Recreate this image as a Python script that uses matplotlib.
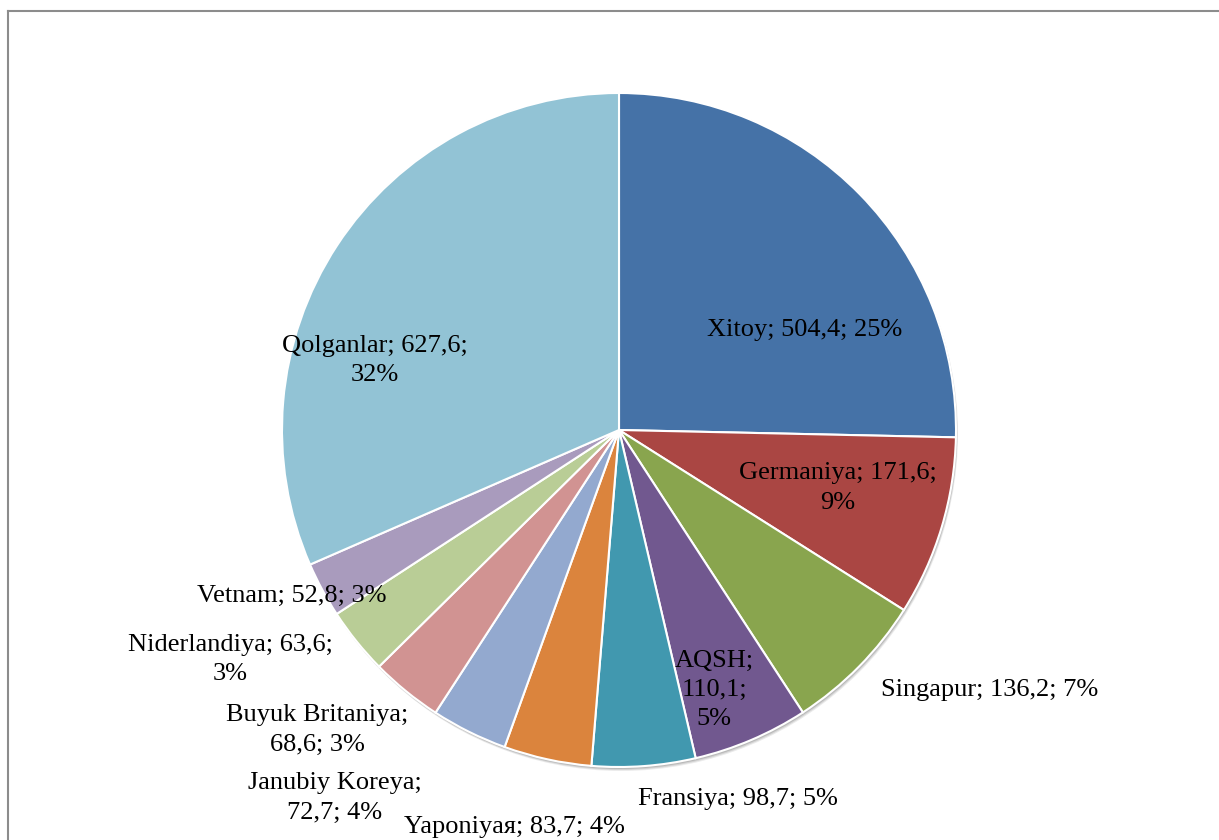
import matplotlib
import matplotlib.pyplot as plt
from matplotlib.lines import Line2D
from matplotlib.patches import Circle

matplotlib.use('Agg')
plt.rcParams['font.family'] = ['Liberation Serif', 'DejaVu Serif']

# Eksport hajmi bo'yicha davlatlar (mln. doll.)
countries = ["Xitoy", "Germaniya", "Singapur", "AQSH", "Fransiya", "Yaponiyaя",
             "Janubiy Koreya", "Buyuk Britaniya", "Niderlandiya", "Vetnam", "Qolganlar"]
values = [504.4, 171.6, 136.2, 110.1, 98.7, 83.7, 72.7, 68.6, 63.6, 52.8, 627.6]
shares = ["25%", "9%", "7%", "5%", "5%", "4%", "4%", "3%", "3%", "3%", "32%"]
colors = ['#4572A7', '#AA4643', '#89A54E', '#71588F', '#4198AF', '#DB843D',
          '#93A9CF', '#D19392', '#B9CD96', '#A99BBD', '#92C3D5']

# label text with line breaks, and label centre (in pie-radius units)
label_breaks = ["{n}; {v}; {p}", "{n}; {v};\n{p}", "{n}; {v}; {p}", "{n};\n{v};\n{p}",
                "{n}; {v}; {p}", "{n}; {v}; {p}", "{n};\n{v}; {p}", "{n};\n{v}; {p}",
                "{n}; {v};\n{p}", "{n}; {v}; {p}", "{n}; {v};\n{p}"]
label_pos = [(0.552, 0.297), (0.650, -0.172), (1.101, -0.772), (0.282, -0.772),
             (0.353, -1.095), (-0.309, -1.178), (-0.843, -1.092), (-0.896, -0.890),
             (-1.154, -0.682), (-0.970, -0.493), (-0.724, 0.205)]

W, H = 1219, 840
cx, cy, r = 619, 430, 337

fig = plt.figure(figsize=(W / 100, H / 100), dpi=100)
ax = fig.add_axes([0, 0, 1, 1])

# soft shadow under the pie
for k, a in [(4, 0.08), (3, 0.10), (2, 0.12)]:
    ax.add_patch(Circle((k / r * 0.5, -k / r), 1.0, color='black', alpha=a, lw=0, zorder=0))

ax.pie(values, colors=colors, startangle=90, counterclock=False, radius=1,
       wedgeprops=dict(edgecolor='white', linewidth=1.5, zorder=1))

ax.set_xlim(-cx / r, (W - cx) / r)
ax.set_ylim(-(H - cy) / r, cy / r)
ax.set_aspect('auto')
ax.axis('off')

for name, v, p, fmt, (x, y) in zip(countries, values, shares, label_breaks, label_pos):
    txt = fmt.format(n=name, v=f"{v:.1f}".replace('.', ','), p=p)
    ax.text(x, y, txt, ha='center', va='center', fontsize=19,
            linespacing=1.42, color='black', zorder=3)

# chart area frame
fig.add_artist(Line2D([8 / W, 1], [1 - 11 / H, 1 - 11 / H], color='#8c8c8c', lw=1.5))
fig.add_artist(Line2D([8 / W, 8 / W], [0, 1 - 11 / H], color='#8c8c8c', lw=1.5))

fig.savefig('out.png', dpi=100)
